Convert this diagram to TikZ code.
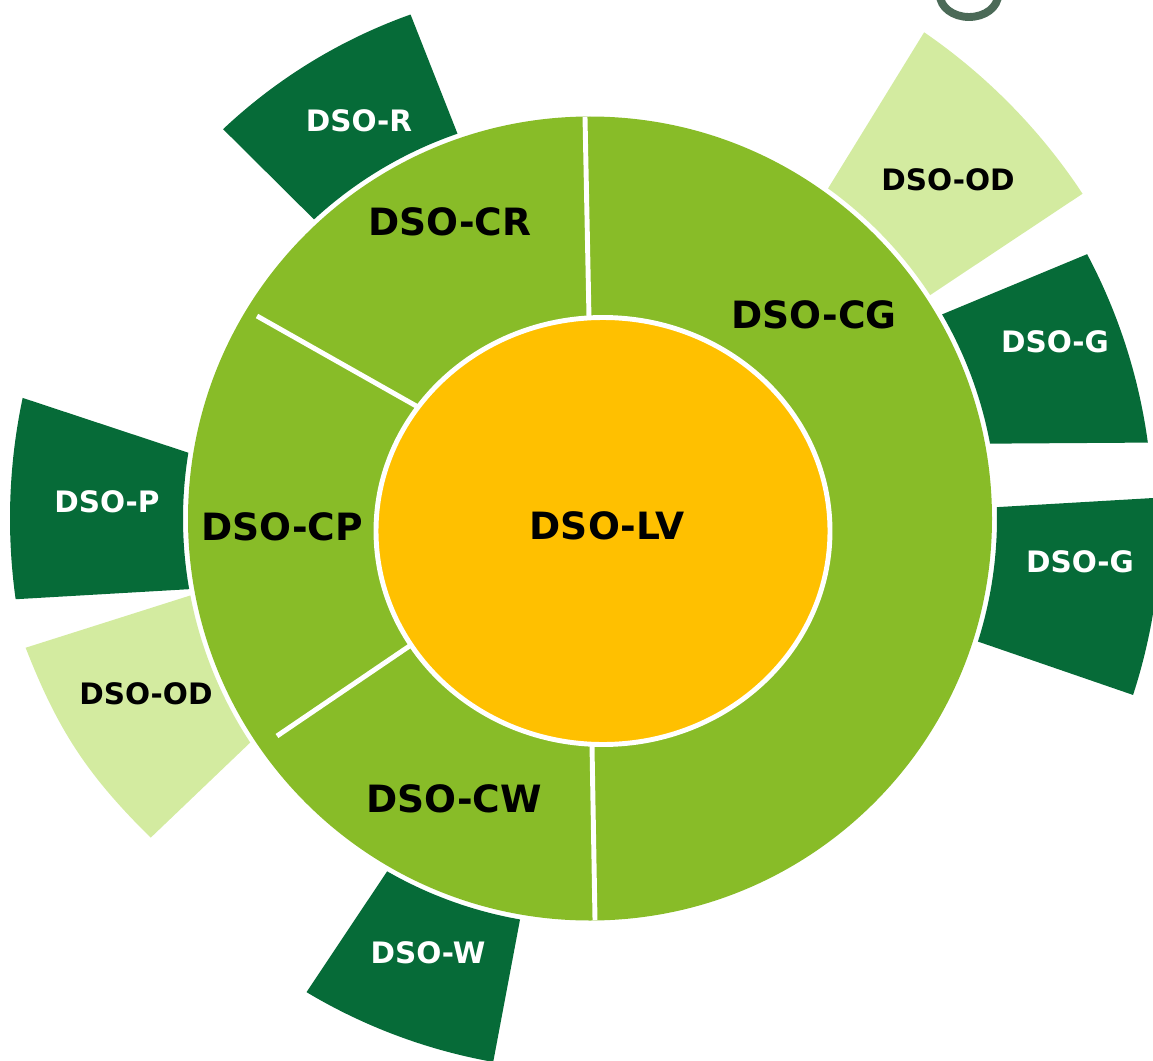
\documentclass[tikz,border=0pt]{standalone}
\usepackage{fontspec}
\setmainfont{DejaVu Sans}
\usetikzlibrary{calc}

\definecolor{ringgreen}{HTML}{88BC28}
\definecolor{darkgreen}{HTML}{066B38}
\definecolor{lightgreen}{HTML}{D3EBA0}
\definecolor{coreyellow}{HTML}{FFC000}
\definecolor{titlegray}{HTML}{4B6A57}

\begin{document}
\begin{tikzpicture}[x=0.02cm, y=0.02cm,
  big/.style={font=\fontsize{21.4}{25}\selectfont\bfseries, text=black, inner sep=0pt},
  small/.style={font=\fontsize{16.8}{20}\selectfont\bfseries, inner sep=0pt},
  cut/.style={white, line width=2.8pt}]

\useasboundingbox (0,0) rectangle (1153,-1061);
\clip (0,0) rectangle (1153,-1061);

%\draw[help lines, ultra thin] (0,-1061) grid[step=50] (1153,0);
\coordinate (c) at (590,-518.5);

%outer pieces
\begin{scope}[shift={(c)}]
	\fill[darkgreen] (132.7:407) arc[start angle=132.7, end angle=109, radius=407] -- (109.6:535) arc[start angle=109.6, end angle=133.3, radius=535] -- cycle;
	\fill[lightgreen] (54.2:407) arc[start angle=54.2, end angle=33.3, radius=407] -- (33.4:590) arc[start angle=33.4, end angle=55.5, radius=590] -- cycle;
	\fill[darkgreen] (30.1:407) arc[start angle=30.1, end angle=10.6, radius=407] -- (7.75:563) arc[start angle=7.75, end angle=28, radius=563] -- cycle;
	\fill[darkgreen] (1.6:407) arc[start angle=1.6, end angle=-17.6, radius=407] -- (-18:571) arc[start angle=-18, end angle=2.1, radius=571] -- cycle;
	\fill[darkgreen] (170.7:407) arc[start angle=170.7, end angle=190, radius=407] -- (188:580) arc[start angle=188, end angle=168, radius=580] -- cycle;
	\fill[lightgreen] (190.9:407) arc[start angle=190.9, end angle=213.4, radius=407] -- (216:543) to[bend left=12] (192.9:579) -- cycle;
	\fill[darkgreen] (240.1:407) arc[start angle=240.1, end angle=260.1, radius=407] -- (259.9:552) arc[start angle=259.9, end angle=239.1, radius=552] -- cycle;
\end{scope}

%ring
\fill[ringgreen] (c) circle [radius=402];
\draw[cut] (585,-117) -- (589,-318);
\draw[cut] (257,-316) -- (418,-407);
\draw[cut] (277,-736) -- (411,-645);
\draw[cut] (592,-745) -- (595,-920);
\draw[fill=coreyellow, draw=white, line width=2.8pt] (603,-531) ellipse [x radius=227, y radius=213.5];

%bit of the title
\draw[titlegray, line width=4.5pt] (940,5) arc[start angle=180, end angle=360, x radius=29, y radius=22];

%nodes
\node[big] (lv) at (607,-526) {DSO-LV};
\node[big] (cr) at (450,-222) {DSO-CR};
\node[big] (cg) at (814,-315) {DSO-CG};
\node[big] (cp) at (282,-527) {DSO-CP};
\node[big] (cw) at (454,-799) {DSO-CW};
\node[small, text=white] (r) at (359,-121) {DSO-R};
\node[small, text=black] (odtop) at (948,-180) {DSO-OD};
\node[small, text=white] (gup) at (1055,-342) {DSO-G};
\node[small, text=white] (glow) at (1080,-562) {DSO-G};
\node[small, text=white] (p) at (107,-502) {DSO-P};
\node[small, text=black] (odleft) at (146,-694) {DSO-OD};
\node[small, text=white] (w) at (428,-953) {DSO-W};

\end{tikzpicture}
\end{document}
